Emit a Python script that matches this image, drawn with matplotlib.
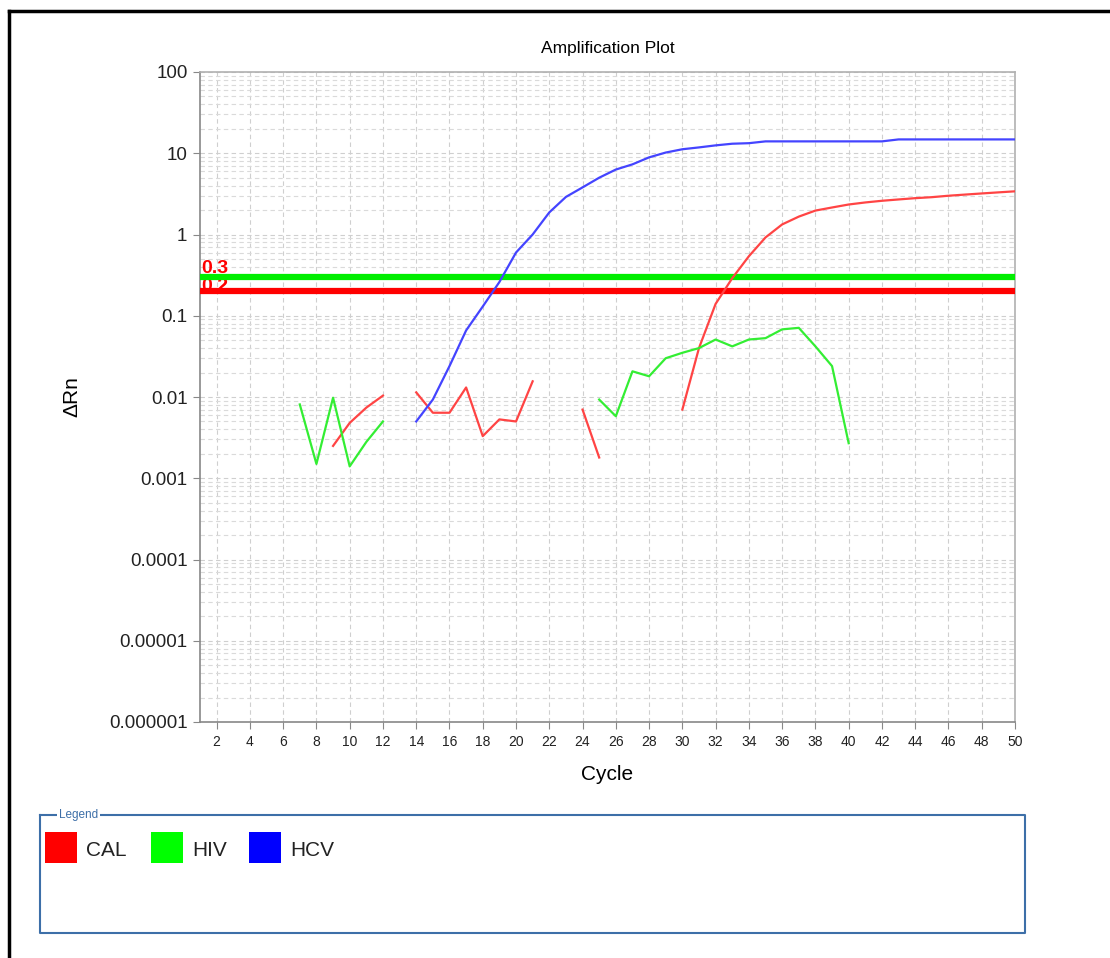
import numpy as np
import matplotlib
matplotlib.use("Agg")
import matplotlib.pyplot as plt
from matplotlib.patches import Rectangle
from matplotlib.lines import Line2D
from matplotlib.ticker import LogLocator

plt.rcParams['font.family'] = ['Liberation Sans', 'DejaVu Sans']

# data (cycle, delta Rn); separate runs where the trace is broken
cal_cycles = [[9, 10, 11, 12],
              [14, 15, 16, 17, 18, 19, 20, 21],
              [24, 25],
              list(range(30, 51))]
cal_values = [[0.0025, 0.0048, 0.0074, 0.0104],
              [0.0114, 0.0064, 0.0064, 0.0131, 0.0033, 0.0053, 0.0050, 0.0156],
              [0.0070, 0.0018],
              [0.0070, 0.040, 0.14, 0.29, 0.54, 0.92, 1.33, 1.66, 1.97, 2.15, 2.34,
               2.48, 2.6, 2.7, 2.8, 2.88, 3.0, 3.1, 3.2, 3.3, 3.4]]

hiv_cycles = [[7, 8, 9, 10, 11, 12],
              list(range(25, 41))]
hiv_values = [[0.0081, 0.0015, 0.0098, 0.0014, 0.0028, 0.0050],
              [0.0093, 0.0058, 0.0207, 0.018, 0.030, 0.035, 0.040, 0.051, 0.042,
               0.051, 0.053, 0.068, 0.071, 0.042, 0.024, 0.0027]]

hcv_cycles = [list(range(14, 51))]
hcv_values = [[0.005, 0.0093, 0.024, 0.066, 0.13, 0.26, 0.6, 1.0, 1.87, 2.9, 3.8, 5.0,
               6.3, 7.3, 8.9, 10.2, 11.2, 11.8, 12.5, 13.1, 13.3, 14.0, 14.0, 14.0,
               14.0, 14.0, 14.0, 14.0, 14.0, 14.8, 14.8, 14.8, 14.8, 14.8, 14.8,
               14.8, 14.8]]

thresholds = [0.3, 0.2]
threshold_labels = ['0.3', '0.2']
threshold_colors = ['#00ee00', '#ff0000']

names = ['CAL', 'HIV', 'HCV']
colors = ['#ff0000', '#00ff00', '#0000ff']
trace_colors = ['#ff4444', '#33ee33', '#4444ff']

y_ticks = [1e-6, 1e-5, 1e-4, 1e-3, 1e-2, 0.1, 1, 10, 100]
y_tick_labels = ['0.000001', '0.00001', '0.0001', '0.001', '0.01', '0.1', '1', '10', '100']
x_ticks = list(range(2, 51, 2))

fig = plt.figure(figsize=(11.1, 9.58), dpi=100)
ax = fig.add_axes([200 / 1110, 1 - 722 / 958, 815 / 1110, 650 / 958])

ax.set_yscale('log')
ax.set_ylim(1e-6, 100)
ax.set_xlim(1, 50)

# grid
ax.set_yticks(y_ticks)
ax.set_yticklabels(y_tick_labels)
ax.yaxis.set_minor_locator(LogLocator(base=10, subs=np.arange(2, 10)))
ax.yaxis.set_minor_formatter(plt.NullFormatter())
ax.set_xticks(x_ticks)
ax.set_xticklabels([str(t) for t in x_ticks])
ax.grid(True, which='major', axis='both', color='#cfcfcf', linestyle=(0, (4, 3)), linewidth=0.8)
ax.grid(True, which='minor', axis='y', color='#dadada', linestyle=(0, (4, 3)), linewidth=0.8)
ax.tick_params(axis='y', which='minor', length=0)
ax.tick_params(axis='y', which='major', length=5, color='#888888', labelsize=13.5, pad=4,
               labelcolor='#222222')
ax.tick_params(axis='x', which='major', length=5, color='#888888', labelsize=10, pad=4,
               labelcolor='#222222')
for s in ax.spines.values():
    s.set_color('#b0b0b0')
    s.set_linewidth(1.2)
ax.spines['left'].set_color('#888888')
ax.spines['bottom'].set_color('#888888')

# thresholds, labels sit just above each line
ax.text(1.05, 0.335, threshold_labels[0], color='#ff0000', fontsize=14, fontweight='bold',
        va='baseline', ha='left', zorder=2)
ax.text(1.05, 0.2, threshold_labels[1], color='#ff0000', fontsize=14, fontweight='bold',
        va='baseline', ha='left', zorder=2)
for val, col in zip(thresholds, threshold_colors):
    ax.axhline(val, color=col, linewidth=4.5, zorder=3)

# traces
for cyc_list, val_list, col in [(cal_cycles, cal_values, trace_colors[0]),
                                (hiv_cycles, hiv_values, trace_colors[1]),
                                (hcv_cycles, hcv_values, trace_colors[2])]:
    for cyc, val in zip(cyc_list, val_list):
        ax.plot(cyc, val, color=col, linewidth=1.6, zorder=4)

ax.set_title('Amplification Plot', fontsize=12.5, pad=14)
ax.set_xlabel('Cycle', fontsize=15, labelpad=12)
ax.set_ylabel('ΔRn', fontsize=15, labelpad=20)

# outer frame (left and top only visible)
fig.add_artist(Line2D([9 / 1110, 9 / 1110], [0, 1 - 11 / 958], color='black', linewidth=2.5,
                      transform=fig.transFigure))
fig.add_artist(Line2D([9 / 1110, 1], [1 - 11 / 958, 1 - 11 / 958], color='black', linewidth=2.5,
                      transform=fig.transFigure))

# legend box
box_col = '#3d6fa8'
lx0, lx1, ly0, ly1 = 40, 1025, 815, 933
fig.add_artist(Line2D([lx0 / 1110, lx0 / 1110, lx1 / 1110, lx1 / 1110, lx0 / 1110],
                      [1 - ly0 / 958, 1 - ly1 / 958, 1 - ly1 / 958, 1 - ly0 / 958, 1 - ly0 / 958],
                      color=box_col, linewidth=1.5, transform=fig.transFigure))
fig.text(59 / 1110, 1 - 815 / 958, 'Legend', fontsize=8.5, color=box_col, va='center', ha='left',
         bbox=dict(facecolor='white', edgecolor='none', pad=1.5))
sq_x = [45, 151, 249]
for x0, name, col in zip(sq_x, names, colors):
    fig.add_artist(Rectangle((x0 / 1110, 1 - 863 / 958), 32 / 1110, 31 / 958,
                             facecolor=col, edgecolor='none', transform=fig.transFigure))
    fig.text((x0 + 41) / 1110, 1 - 850 / 958, name, fontsize=15, color='#222222',
             va='center', ha='left')

fig.savefig('out.png', dpi=100)
